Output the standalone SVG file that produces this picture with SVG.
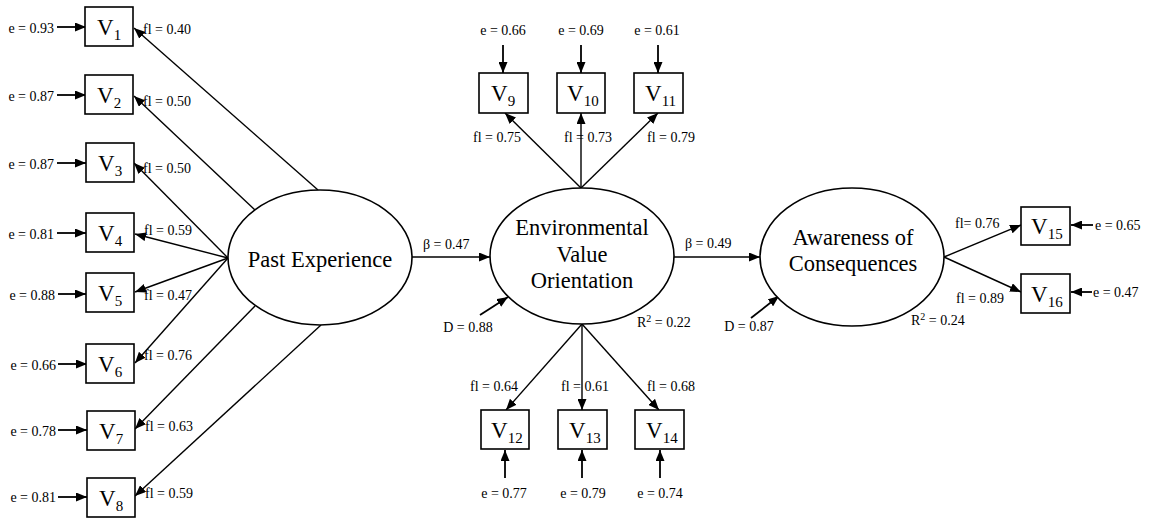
<svg xmlns="http://www.w3.org/2000/svg" width="1158" height="521" viewBox="0 0 1158 521">
<style>
text{font-family:"Liberation Serif","Times New Roman",serif;fill:#000}
.lbl{font-size:14px}
.big{font-size:22.5px;text-anchor:middle}
.v{font-size:23px}
.sub{font-size:15px}
.sup{font-size:10px}
.box{fill:#fff;stroke:#000;stroke-width:1.6}
.ell{fill:#fff;stroke:#000;stroke-width:1.6}
.edge{stroke:#000;stroke-width:1.4;fill:none;marker-end:url(#ah)}
.err{stroke:#000;stroke-width:1.8;fill:none;marker-end:url(#ah)}
.mid{text-anchor:middle}
.end{text-anchor:end}
</style>
<defs>
<marker id="ah" markerWidth="11" markerHeight="9" refX="11" refY="4.5" orient="auto" markerUnits="userSpaceOnUse">
<path d="M0,0 L11,4.5 L0,9 z" fill="#000"/>
</marker>
</defs>
<rect width="1158" height="521" fill="#fff"/>

<g id="connectors">
<line class="edge" x1="318" y1="190" x2="134" y2="28"/>
<line class="edge" x1="255" y1="210" x2="134" y2="96"/>
<line class="edge" x1="228" y1="258" x2="134" y2="163"/>
<line class="edge" x1="228" y1="258" x2="135" y2="234"/>
<line class="edge" x1="228" y1="258" x2="135" y2="292"/>
<line class="edge" x1="228" y1="258" x2="135" y2="363"/>
<line class="edge" x1="255" y1="306" x2="135" y2="429"/>
<line class="edge" x1="321" y1="325" x2="135" y2="496"/>
<line class="err" x1="57" y1="27" x2="86" y2="27"/>
<line class="err" x1="57" y1="95" x2="86" y2="95"/>
<line class="err" x1="57" y1="163" x2="86" y2="163"/>
<line class="err" x1="57" y1="233" x2="86" y2="233"/>
<line class="err" x1="58" y1="294" x2="86" y2="294"/>
<line class="err" x1="58" y1="364" x2="87" y2="364"/>
<line class="err" x1="58" y1="430" x2="87" y2="430"/>
<line class="err" x1="58" y1="497" x2="87" y2="497"/>
<line class="edge" x1="412" y1="257" x2="490" y2="257"/>
<line class="edge" x1="674" y1="257" x2="760" y2="257"/>
<line class="edge" x1="581" y1="188" x2="505" y2="113"/>
<line class="edge" x1="581" y1="188" x2="581" y2="113"/>
<line class="edge" x1="581" y1="188" x2="658" y2="113"/>
<line class="edge" x1="582" y1="324" x2="506" y2="410"/>
<line class="edge" x1="582" y1="324" x2="582" y2="410"/>
<line class="edge" x1="582" y1="324" x2="659" y2="410"/>
<line class="err" x1="503" y1="45" x2="503" y2="73"/>
<line class="err" x1="581" y1="45" x2="581" y2="73"/>
<line class="err" x1="658" y1="45" x2="658" y2="73"/>
<line class="err" x1="505" y1="478" x2="505" y2="450"/>
<line class="err" x1="582" y1="478" x2="582" y2="450"/>
<line class="err" x1="660" y1="478" x2="660" y2="450"/>
<line class="err" x1="480" y1="315" x2="508" y2="297"/>
<line class="err" x1="751" y1="318" x2="779" y2="296"/>
<line class="edge" x1="944" y1="257" x2="1021" y2="225"/>
<line class="edge" x1="944" y1="257" x2="1021" y2="292"/>
<line class="err" x1="1093" y1="225" x2="1071" y2="225"/>
<line class="err" x1="1092" y1="292" x2="1071" y2="292"/>
</g>

<g id="labels">
<text class="lbl end" x="54" y="33">e = 0.93</text>
<text class="lbl end" x="54" y="101">e = 0.87</text>
<text class="lbl end" x="54" y="169">e = 0.87</text>
<text class="lbl end" x="54" y="239">e = 0.81</text>
<text class="lbl end" x="55" y="300">e = 0.88</text>
<text class="lbl end" x="56" y="370">e = 0.66</text>
<text class="lbl end" x="56" y="436">e = 0.78</text>
<text class="lbl end" x="56" y="502">e = 0.81</text>
<text class="lbl" x="143" y="34">fl = 0.40</text>
<text class="lbl" x="143" y="106">fl = 0.50</text>
<text class="lbl" x="143" y="173">fl = 0.50</text>
<text class="lbl" x="144" y="235">fl = 0.59</text>
<text class="lbl" x="144" y="300">fl = 0.47</text>
<text class="lbl" x="144" y="360">fl = 0.76</text>
<text class="lbl" x="145" y="431">fl = 0.63</text>
<text class="lbl" x="145" y="498">fl = 0.59</text>
<text class="lbl" x="423" y="249">β = 0.47</text>
<text class="lbl" x="685" y="248">β = 0.49</text>
<text class="lbl mid" x="503" y="35">e = 0.66</text>
<text class="lbl mid" x="581" y="35">e = 0.69</text>
<text class="lbl mid" x="657" y="35">e = 0.61</text>
<text class="lbl" x="473" y="142">fl = 0.75</text>
<text class="lbl" x="564" y="142">fl = 0.73</text>
<text class="lbl" x="647" y="142">fl = 0.79</text>
<text class="lbl" x="470" y="391">fl = 0.64</text>
<text class="lbl" x="561" y="391">fl = 0.61</text>
<text class="lbl" x="647" y="391">fl = 0.68</text>
<text class="lbl mid" x="504" y="498">e = 0.77</text>
<text class="lbl mid" x="583" y="498">e = 0.79</text>
<text class="lbl mid" x="660" y="498">e = 0.74</text>
<text class="lbl mid" x="468" y="332">D = 0.88</text>
<text class="lbl" x="637" y="327">R<tspan class="sup" dy="-5">2</tspan><tspan dy="5"> = 0.22</tspan></text>
<text class="lbl mid" x="749" y="331">D = 0.87</text>
<text class="lbl" x="911" y="325">R<tspan class="sup" dy="-5">2</tspan><tspan dy="5"> = 0.24</tspan></text>
<text class="lbl" x="955" y="228">fl= 0.76</text>
<text class="lbl" x="956" y="303">fl = 0.89</text>
<text class="lbl" x="1095" y="230">e = 0.65</text>
<text class="lbl" x="1093" y="297">e = 0.47</text>
</g>

<g id="PastExperience">
<ellipse class="ell" cx="320" cy="257.5" rx="92" ry="67.5"/>
<text class="big" x="320" y="267">Past Experience</text>
</g>
<g id="EVO">
<ellipse class="ell" cx="582" cy="256" rx="92" ry="68"/>
<text class="big" x="582" y="235">Environmental</text>
<text class="big" x="582" y="262">Value</text>
<text class="big" x="582" y="288">Orientation</text>
</g>
<g id="AC">
<ellipse class="ell" cx="852" cy="257" rx="92" ry="69"/>
<text class="big" x="853" y="245">Awareness of</text>
<text class="big" x="853" y="271">Consequences</text>
</g>

<g id="V1"><rect class="box" x="85" y="7" width="48" height="39"/><text class="v" x="97" y="35">V<tspan class="sub" dy="5">1</tspan></text></g>
<g id="V2"><rect class="box" x="85" y="75" width="48" height="39"/><text class="v" x="97" y="103">V<tspan class="sub" dy="5">2</tspan></text></g>
<g id="V3"><rect class="box" x="86" y="143" width="48" height="39"/><text class="v" x="98" y="171">V<tspan class="sub" dy="5">3</tspan></text></g>
<g id="V4"><rect class="box" x="86" y="213" width="48" height="39"/><text class="v" x="98" y="241">V<tspan class="sub" dy="5">4</tspan></text></g>
<g id="V5"><rect class="box" x="86" y="273" width="48" height="39"/><text class="v" x="98" y="301">V<tspan class="sub" dy="5">5</tspan></text></g>
<g id="V6"><rect class="box" x="86" y="344" width="48" height="39"/><text class="v" x="98" y="372">V<tspan class="sub" dy="5">6</tspan></text></g>
<g id="V7"><rect class="box" x="87" y="411" width="48" height="39"/><text class="v" x="99" y="439">V<tspan class="sub" dy="5">7</tspan></text></g>
<g id="V8"><rect class="box" x="87" y="478" width="48" height="39"/><text class="v" x="99" y="506">V<tspan class="sub" dy="5">8</tspan></text></g>
<g id="V9"><rect class="box" x="479" y="73" width="49" height="40"/><text class="v" x="491" y="101">V<tspan class="sub" dy="5">9</tspan></text></g>
<g id="V10"><rect class="box" x="557" y="73" width="48" height="40"/><text class="v" x="567" y="101">V<tspan class="sub" dy="5">10</tspan></text></g>
<g id="V11"><rect class="box" x="634" y="73" width="49" height="40"/><text class="v" x="645" y="101">V<tspan class="sub" dy="5">11</tspan></text></g>
<g id="V12"><rect class="box" x="481" y="410" width="48" height="39"/><text class="v" x="491" y="438">V<tspan class="sub" dy="5">12</tspan></text></g>
<g id="V13"><rect class="box" x="558" y="410" width="49" height="39"/><text class="v" x="569" y="438">V<tspan class="sub" dy="5">13</tspan></text></g>
<g id="V14"><rect class="box" x="635" y="410" width="49" height="39"/><text class="v" x="646" y="438">V<tspan class="sub" dy="5">14</tspan></text></g>
<g id="V15"><rect class="box" x="1021" y="207" width="49" height="38"/><text class="v" x="1031" y="234">V<tspan class="sub" dy="5">15</tspan></text></g>
<g id="V16"><rect class="box" x="1021" y="274" width="49" height="39"/><text class="v" x="1031" y="302">V<tspan class="sub" dy="5">16</tspan></text></g>
</svg>
